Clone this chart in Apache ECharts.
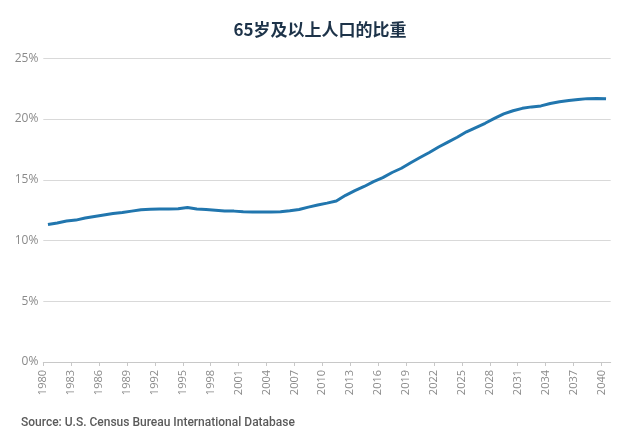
<!DOCTYPE html>
<html>
<head>
<meta charset="utf-8">
<script src="https://cdn.jsdelivr.net/npm/echarts@6/dist/echarts.min.js"></script>
<style>
html,body{margin:0;padding:0;background:#fff;}
#chart{width:640px;height:444px;}
</style>
</head>
<body>
<div id="chart"></div>
<script>
var titleText = '65岁及以上人口的比重';
var sourceText = 'Source: U.S. Census Bureau International Database';
var years = [];
for (var y = 1980; y <= 2040; y++) years.push(String(y));
var shareValues = [
  11.32, 11.45, 11.6, 11.68, 11.85, 11.98, 12.1, 12.22, 12.3, 12.42,
  12.53, 12.57, 12.6, 12.6, 12.62, 12.72, 12.6, 12.56, 12.5, 12.43,
  12.42, 12.37, 12.35, 12.35, 12.35, 12.37, 12.45, 12.55, 12.75, 12.92,
  13.08, 13.25, 13.72, 14.1, 14.45, 14.85, 15.18, 15.6, 15.95, 16.4,
  16.83, 17.25, 17.7, 18.1, 18.5, 18.95, 19.3, 19.65, 20.05, 20.42,
  20.68, 20.88, 21.0, 21.08, 21.28, 21.42, 21.52, 21.6, 21.68, 21.7,
  21.68
];
var tickYears = [1980,1983,1986,1989,1992,1995,1998,2001,2004,2007,2010,2013,2016,2019,2022,2025,2028,2031,2034,2037,2040];
var yTicks = [0, 5, 10, 15, 20, 25];

var chart = echarts.init(document.getElementById('chart'), null, {renderer: 'canvas'});
chart.setOption({
  backgroundColor: '#ffffff',
  animation: false,
  title: {
    text: titleText,
    left: 'center',
    top: 16,
    textStyle: {fontFamily: '"Noto Sans CJK SC", sans-serif', fontSize: 17, fontWeight: 'bold', color: '#1d3349'}
  },
  graphic: [{
    type: 'text',
    left: 21,
    top: 417,
    style: {text: sourceText, fontFamily: 'Roboto, "Noto Sans", sans-serif', fontSize: 12, fontWeight: 500, fill: '#5a5a5a'}
  }],
  grid: {left: 43.3, right: 29.3, top: 58.3, bottom: 82, containLabel: false},
  xAxis: [{
    type: 'category',
    data: years,
    boundaryGap: true,
    show: false
  }, {
    type: 'value',
    min: 1980,
    max: 2041,
    position: 'bottom',
    axisLine: {show: true, lineStyle: {color: '#c8c8c8', width: 1}},
    axisTick: {show: true, length: 4, lineStyle: {color: '#c8c8c8'}, customValues: tickYears},
    axisLabel: {
      customValues: tickYears,
      rotate: 90,
      margin: 8,
      color: '#8a8a8a',
      fontSize: 11,
      fontFamily: '"Open Sans", sans-serif',
      formatter: function (v) { return String(v); }
    },
    splitLine: {show: false}
  }],
  yAxis: {
    type: 'value',
    min: 0,
    max: 25,
    interval: 5,
    axisLine: {show: false},
    axisTick: {show: false},
    axisLabel: {
      color: '#8a8a8a',
      fontSize: 12,
      margin: 5,
      fontFamily: '"Open Sans", sans-serif',
      formatter: function (v) { return v + '%'; }
    },
    splitLine: {lineStyle: {color: '#d9d9d9', width: 1}}
  },
  series: [{
    type: 'line',
    xAxisIndex: 0,
    data: shareValues,
    showSymbol: false,
    symbol: 'none',
    lineStyle: {color: '#2176ae', width: 3},
    itemStyle: {color: '#2176ae'}
  }]
});
</script>
</body>
</html>
